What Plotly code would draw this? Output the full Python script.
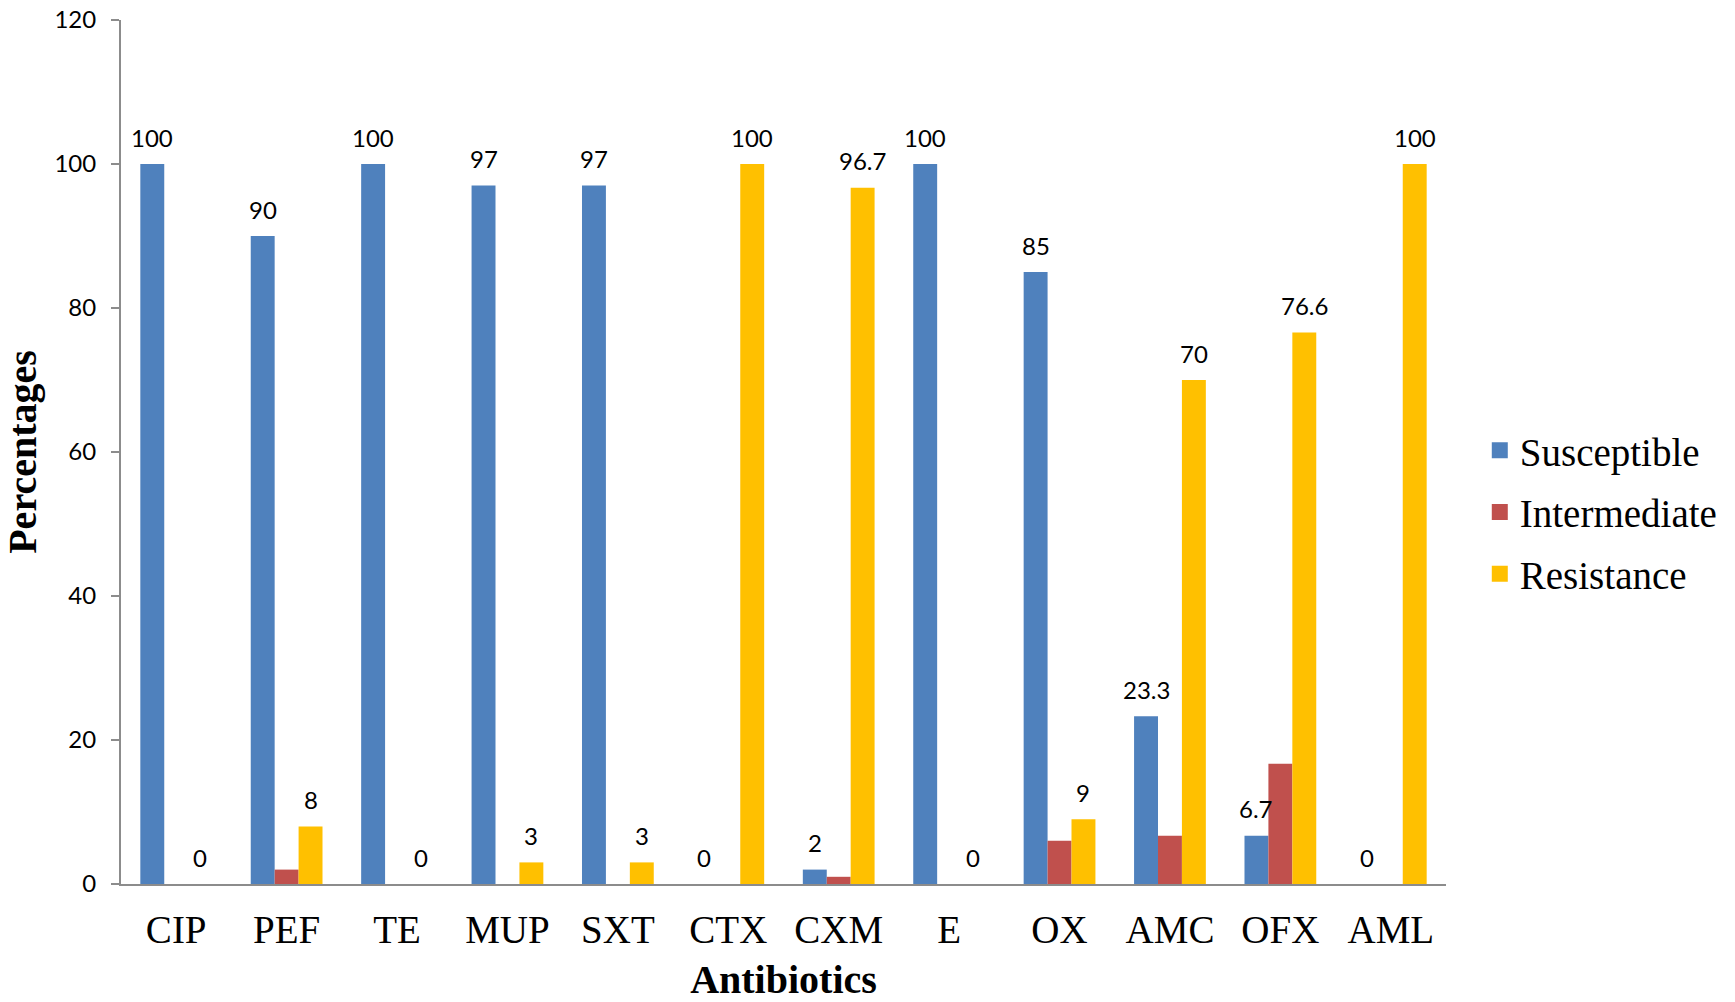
import plotly.graph_objects as go

# Antibiotic susceptibility profile (percent of isolates)
antibiotics = ["CIP", "PEF", "TE", "MUP", "SXT", "CTX", "CXM", "E", "OX", "AMC", "OFX", "AML"]
susceptible = [100, 90, 100, 97, 97, 0, 2, 100, 85, 23.3, 6.7, 0]
intermediate = [0, 2, 0, 0, 0, 0, 1, 0, 6, 6.7, 16.7, 0]
resistance = [0, 8, 0, 3, 3, 100, 96.7, 0, 9, 70, 76.6, 100]
y_ticks = [0, 20, 40, 60, 80, 100, 120]

BLUE = "#4F81BD"
RED = "#C0504D"
GOLD = "#FFC000"
AXIS_GREY = "#8C8C8C"
SERIF = "Liberation Serif, Times New Roman, serif"
SANS = "Lato, Noto Sans, sans-serif"

BARGAP = 0.35
bar_w = (1 - BARGAP) / 3
positions = list(range(len(antibiotics)))

series = [
    ("Susceptible", susceptible, BLUE),
    ("Intermediate", intermediate, RED),
    ("Resistance", resistance, GOLD),
]

fig = go.Figure()
for name, vals, color in series:
    fig.add_trace(go.Bar(
        x=positions, y=vals, name=name,
        marker=dict(color=color, line=dict(width=0)),
        legendgroup=name, showlegend=False,
    ))
# legend keys drawn as larger square swatches
for name, vals, color in series:
    fig.add_trace(go.Scatter(
        x=[None], y=[None], mode="markers", name=name,
        marker=dict(symbol="square", size=18, color=color),
        legendgroup=name, showlegend=True,
    ))

# value labels above the Susceptible and Resistance bars
annotations = []
for i, (s, r) in enumerate(zip(susceptible, resistance)):
    for val, off in ((s, -bar_w), (r, bar_w)):
        annotations.append(dict(
            x=i + off, y=val, xref="x", yref="y",
            text=f"{val:g}", showarrow=False,
            yanchor="middle", yshift=27,
            font=dict(family=SANS, size=24, color="#000000"),
        ))

fig.update_layout(
    width=1735, height=1002,
    margin=dict(l=121, r=287, t=20, b=118),
    paper_bgcolor="white", plot_bgcolor="white",
    barmode="group", bargap=BARGAP, bargroupgap=0,
    annotations=annotations,
    showlegend=True,
    legend=dict(
        x=1.0255, y=0.43, xanchor="left", yanchor="middle",
        font=dict(family=SERIF, size=39, color="#000000"),
        tracegroupgap=8, itemwidth=30, itemsizing="trace",
        bgcolor="rgba(0,0,0,0)",
    ),
    xaxis=dict(
        range=[-0.5, len(antibiotics) - 0.5],
        tickmode="array", tickvals=positions, ticktext=antibiotics,
        showline=True, linecolor=AXIS_GREY, linewidth=2,
        ticks="", showgrid=False, zeroline=False,
        tickfont=dict(family=SERIF, size=39, color="#000000"),
        ticklabelstandoff=10,
        title=dict(text="<b>Antibiotics</b>", standoff=23,
                   font=dict(family=SERIF, size=40, color="#000000")),
        automargin=False,
    ),
    yaxis=dict(
        range=[0, 120], tickmode="array", tickvals=y_ticks,
        showline=True, linecolor=AXIS_GREY, linewidth=2,
        ticks="outside", ticklen=8, tickwidth=2, tickcolor=AXIS_GREY,
        showgrid=False, zeroline=False,
        tickfont=dict(family=SANS, size=24, color="#000000"),
        ticklabelstandoff=10,
        title=dict(text="<b>Percentages</b>", standoff=14,
                   font=dict(family=SERIF, size=40, color="#000000")),
        automargin=False,
    ),
)

fig.write_html("out.html")
